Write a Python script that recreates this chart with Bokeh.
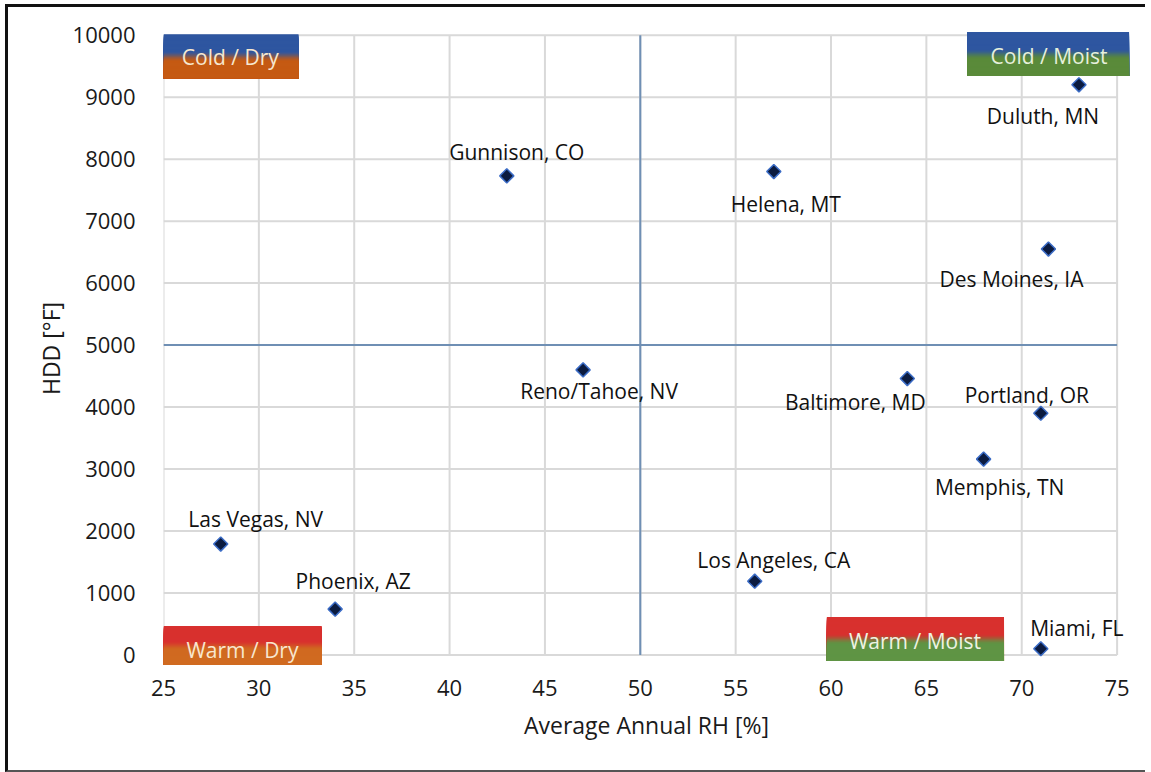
import numpy as np
from bokeh.plotting import figure
from bokeh.models import FixedTicker, Range1d, ColumnDataSource
from bokeh.core.properties import value
from bokeh.embed import file_html
from bokeh.resources import INLINE

# ---------------- data ----------------
cities = ["Duluth, MN", "Gunnison, CO", "Helena, MT", "Des Moines, IA",
          "Reno/Tahoe, NV", "Baltimore, MD", "Portland, OR", "Memphis, TN",
          "Las Vegas, NV", "Phoenix, AZ", "Los Angeles, CA", "Miami, FL"]
rh = [73, 43, 57, 71.4, 47, 64, 71, 68, 28, 34, 56, 71]
hdd = [9200, 7730, 7800, 6550, 4600, 4460, 3900, 3160, 1790, 740, 1190, 100]

x_ticks = [25, 30, 35, 40, 45, 50, 55, 60, 65, 70, 75]
y_ticks = [0, 1000, 2000, 3000, 4000, 5000, 6000, 7000, 8000, 9000, 10000]

quadrant_names = ["Cold / Dry", "Cold / Moist", "Warm / Dry", "Warm / Moist"]
x_title = "Average Annual RH [%]"
y_title = "HDD [°F]"

# ---------------- styling / positions ----------------
label_dx = [-36, 10, 12, -37, 16, -52, -14, 16, 35, 18, 19, 36]
label_dy = [31, -24, 32, 30, 21, 23, -18, 28, -25, -28, -21, -21]

# quadrant boxes: (left, right, bottom, top) in data units, text pos, colours
boxes = [
    dict(l=25.0, r=32.08, b=9306, t=10016, tx=28.5, ty=9645, c1="#2e56a0", c2="#c55a13", tc="#f6e7cf"),
    dict(l=67.13, r=75.63, b=9340, t=10050, tx=71.43, ty=9661, c1="#2e56a0", c2="#5a8a3a", tc="#e6f0dc"),
    dict(l=25.0, r=33.3, b=-160, t=468, tx=29.14, ty=80, c1="#d8302e", c2="#d06a20", tc="#f8e6cf"),
    dict(l=59.78, r=69.07, b=-97, t=613, tx=64.4, ty=226, c1="#d8302e", c2="#5f9444", tc="#eef3e2"),
]

FONT = "Open Sans"

p = figure(width=1140, height=768, output_backend="svg", toolbar_location=None,
           x_range=Range1d(25, 75.65), y_range=Range1d(-170, 10060),
           min_border_left=155, min_border_right=19, min_border_top=24, min_border_bottom=110)
p.styles = {"border-left": "3px solid #111", "border-top": "3px solid #111",
            "border-bottom": "2px solid #555", "margin-left": "5px", "margin-top": "4px"}
p.outline_line_color = None
p.xgrid.visible = False
p.ygrid.visible = False
p.background_fill_color = "white"
p.border_fill_color = "white"

# manual grid lines (restricted to 25..75, 0..10000)
grid_col = "#d9d9d9"
p.segment(x0=x_ticks, x1=x_ticks, y0=[y_ticks[0]] * len(x_ticks), y1=[y_ticks[-1]] * len(x_ticks),
          line_color=grid_col, line_width=2)
p.segment(x0=[x_ticks[0]] * len(y_ticks), x1=[x_ticks[-1]] * len(y_ticks), y0=y_ticks, y1=y_ticks,
          line_color=grid_col, line_width=2)

# quadrant lines
qcol = "#6f8fb4"
p.segment(x0=[50], x1=[50], y0=[0], y1=[10000], line_color=qcol, line_width=2)
p.segment(x0=[25], x1=[75], y0=[5000], y1=[5000], line_color=qcol, line_width=2)


def hex2rgb(h):
    h = h.lstrip("#")
    return np.array([int(h[i:i + 2], 16) for i in (0, 2, 4)], dtype=float)


def mix(c1, c2, f):
    c = hex2rgb(c1) * (1 - f) + hex2rgb(c2) * f
    return "#%02x%02x%02x" % tuple(int(round(v)) for v in c)


n = 40
for b, name in zip(boxes, quadrant_names):
    edges = np.linspace(b["t"], b["b"], n + 1)
    tops, bots, cols = [], [], []
    for i in range(n):
        tc = (i + 0.5) / n
        f = np.clip((tc - 0.38) / 0.24, 0, 1)
        f = f * f * (3 - 2 * f)
        tops.append(edges[i])
        bots.append(b["b"])
        cols.append(mix(b["c1"], b["c2"], f))
    p.quad(left=[b["l"]] * n, right=[b["r"]] * n, top=tops, bottom=bots,
           fill_color=cols, line_color=None)
    p.text(x=[b["tx"]], y=[b["ty"]], text=[name], text_font=value(FONT),
           text_font_size="21px", text_color=b["tc"], text_align="center",
           text_baseline="middle")

src = ColumnDataSource(dict(x=rh, y=hdd, name=cities, dx=label_dx, dy=label_dy))
p.scatter(x="x", y="y", source=src, marker="square", angle=np.pi / 4, size=10,
          fill_color="#0b1b40", line_color="#3b6cc6", line_width=1.5)
p.text(x="x", y="y", text="name", source=src, x_offset="dx", y_offset="dy",
       text_font=value(FONT), text_font_size="21px", text_color="#111111",
       text_align="center", text_baseline="middle")

# axes
p.xaxis.ticker = FixedTicker(ticks=x_ticks)
p.yaxis.ticker = FixedTicker(ticks=y_ticks)
for ax in (p.xaxis[0], p.yaxis[0]):
    ax.axis_line_color = None
    ax.major_tick_line_color = None
    ax.minor_tick_line_color = None
    ax.major_label_text_font = FONT
    ax.major_label_text_font_size = "22px"
    ax.major_label_text_color = "#1a1a1a"
    ax.axis_label_text_font = FONT
    ax.axis_label_text_font_size = "23px"
    ax.axis_label_text_font_style = "normal"
    ax.axis_label_text_color = "#1a1a1a"
p.xaxis.axis_label = x_title
p.yaxis.axis_label = y_title
p.xaxis.major_label_standoff = 8
p.yaxis.major_label_standoff = 22
p.xaxis.axis_label_standoff = 10
p.yaxis.axis_label_standoff = 3

open("out.html", "w").write(file_html(p, INLINE))
